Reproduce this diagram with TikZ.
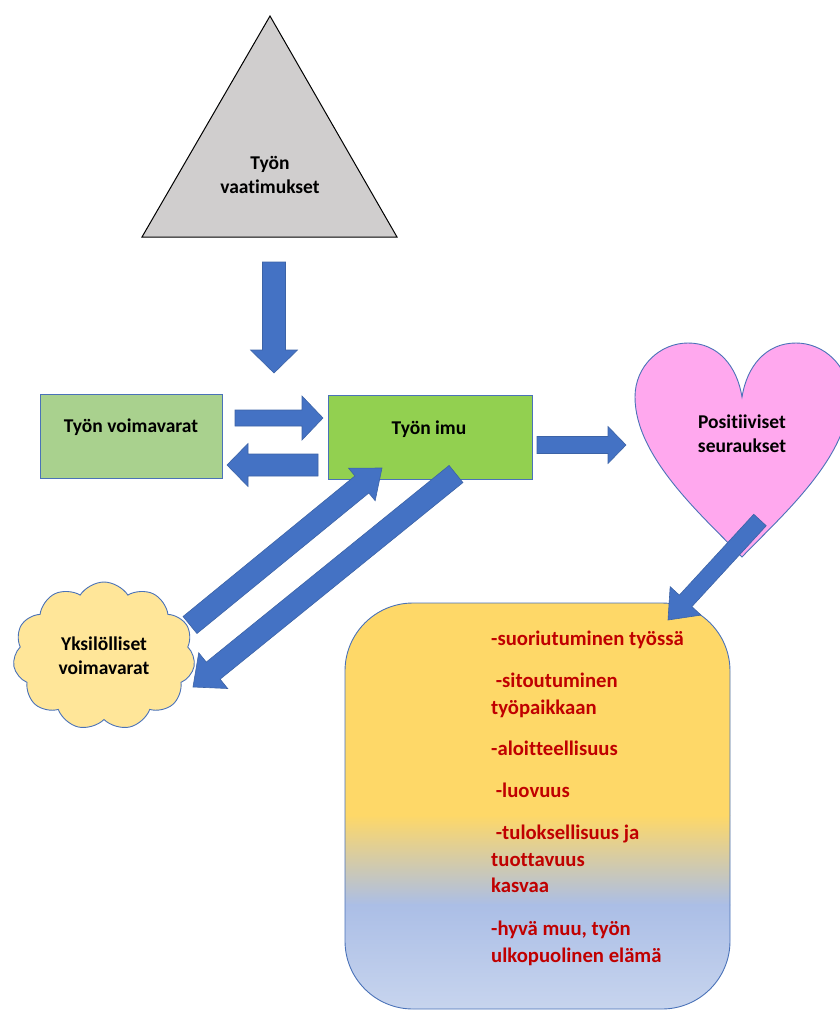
\documentclass[tikz,border=0pt]{standalone}
\usepackage{fontspec}
\setmainfont{Carlito}[Ligatures=NoCommon]
\usetikzlibrary{calc,shapes.symbols}

\definecolor{arrowblue}{HTML}{4472C4}
\definecolor{arrowedge}{HTML}{3C63A6}
\definecolor{shapeedge}{HTML}{4A72B8}
\definecolor{demandgray}{HTML}{D0CECE}
\definecolor{resgreen}{HTML}{A9D18E}
\definecolor{imugreen}{HTML}{92D050}
\definecolor{heartpink}{HTML}{FFA8EE}
\definecolor{cloudyellow}{HTML}{FFE699}
\definecolor{boxyellow}{HTML}{FED868}
\definecolor{boxblue}{HTML}{ABBEE6}
\definecolor{boxpale}{HTML}{C8D5EE}
\definecolor{redtext}{HTML}{C00000}

\tikzset{
  blockarrow/.style={fill=arrowblue, draw=arrowedge, line width=0.6pt, line join=miter},
  lbl/.style={font=\bfseries\fontsize{19.5}{24}\selectfont, text=black, align=center, inner sep=0pt},
  redlbl/.style={font=\bfseries\fontsize{20.7}{25}\selectfont, text=redtext, anchor=mid west, inner sep=0pt},
  greenbox/.style={draw=shapeedge, line width=0.9pt},
}

% block arrow: #1 tail, #2 tip, #3 half shaft width, #4 half head width, #5 head length
\newcommand\blockarrow[5]{%
  \coordinate (#1-#2-h) at ($(#2)!#5!(#1)$);
  \draw[blockarrow] ($(#1)!#3!90:(#2)$) -- ($(#1-#2-h)!#3!-90:(#1)$)
    -- ($(#1-#2-h)!#4!-90:(#1)$) -- (#2) -- ($(#1-#2-h)!#4!90:(#1)$)
    -- ($(#1-#2-h)!#3!90:(#1)$) -- ($(#1)!#3!-90:(#2)$) -- cycle;
}

\begin{document}
\begin{tikzpicture}[x=1pt,y=-1pt]
\useasboundingbox (0,0) rectangle (840,1010);

% job demands triangle
\draw[fill=demandgray, draw=black, line width=1pt] (270,16) -- (397,237) -- (142,237) -- cycle;
\node[lbl] (demands) at (270,175) {Työn\\vaatimukset};

% job resources and work engagement
\draw[greenbox, fill=resgreen] (40,394) rectangle (222,478);
\node[lbl] (resources) at (131,427) {Työn voimavarat};
\draw[greenbox, fill=imugreen] (328,395) rectangle (532,479);
\node[lbl] (imu) at (429,429) {Työn imu};

% heart of positive outcomes
\draw[fill=heartpink, draw=shapeedge, line width=0.9pt]
  (742,557) .. controls (705,518) and (635,458) .. (635,397)
  .. controls (635,366) and (660,343) .. (688,343)
  .. controls (718,343) and (737,366) .. (742,397)
  .. controls (747,366) and (766,343) .. (796,343)
  .. controls (824,343) and (849,366) .. (849,397)
  .. controls (849,458) and (779,518) .. (742,557) -- cycle;
\node[lbl] (outcomes) at (742,434) {Positiiviset\\seuraukset};

% personal resources cloud
\node[cloud, cloud puffs=11, cloud puff arc=115, cloud ignores aspect,
  minimum width=182pt, minimum height=148pt, fill=cloudyellow, draw=shapeedge,
  line width=0.9pt, lbl] (personal) at (104,656) {Yksilölliset\\voimavarat};

% outcome list box with vertical colour fade
\begin{scope}
  \clip[rounded corners=68pt] (345,603) rectangle (730,1009);
  \fill[boxyellow] (340,598) rectangle (735,816);
  \shade[top color=boxyellow, bottom color=boxblue] (340,815) rectangle (735,905);
  \shade[top color=boxblue, bottom color=boxpale] (340,904) rectangle (735,1012);
\end{scope}
\draw[draw=shapeedge, line width=0.9pt, rounded corners=68pt] (345,603) rectangle (730,1009);

\node[redlbl] (o1) at (491,643) {-suoriutuminen työssä};
\node[redlbl] (o2) at (491,685) {\ -sitoutuminen};
\node[redlbl] (o3) at (491,712) {työpaikkaan};
\node[redlbl] (o4) at (491,753) {-aloitteellisuus};
\node[redlbl] (o5) at (491,795) {\ -luovuus};
\node[redlbl] (o6) at (491,837) {\ -tuloksellisuus ja};
\node[redlbl] (o7) at (491,864) {tuottavuus};
\node[redlbl] (o8) at (491,890) {kasvaa};
\node[redlbl] (o9) at (491,933) {-hyvä muu, työn};
\node[redlbl] (o10) at (491,960) {ulkopuolinen elämä};

% arrow end points
\coordinate (dA) at (274,262);  \coordinate (dB) at (274,373);
\coordinate (rA) at (235,418);  \coordinate (rB) at (323,418);
\coordinate (lA) at (318,465);  \coordinate (lB) at (227,465);
\coordinate (hA) at (537,445);  \coordinate (hB) at (626,445);
\coordinate (pA) at (760,520);  \coordinate (pB) at (668,620);
\coordinate (uA) at (190,625);  \coordinate (uB) at (382,468);
\coordinate (cA) at (456,474);  \coordinate (cB) at (193,687);

\blockarrow{dA}{dB}{11.5pt}{23.5pt}{23pt}
\blockarrow{rA}{rB}{8pt}{22pt}{21pt}
\blockarrow{lA}{lB}{11pt}{21.5pt}{21pt}
\blockarrow{hA}{hB}{8.5pt}{18.5pt}{18pt}
\blockarrow{pA}{pB}{8.5pt}{21pt}{26pt}
\blockarrow{uA}{uB}{11pt}{21pt}{26pt}
\blockarrow{cA}{cB}{11pt}{23pt}{26pt}
\end{tikzpicture}
\end{document}
